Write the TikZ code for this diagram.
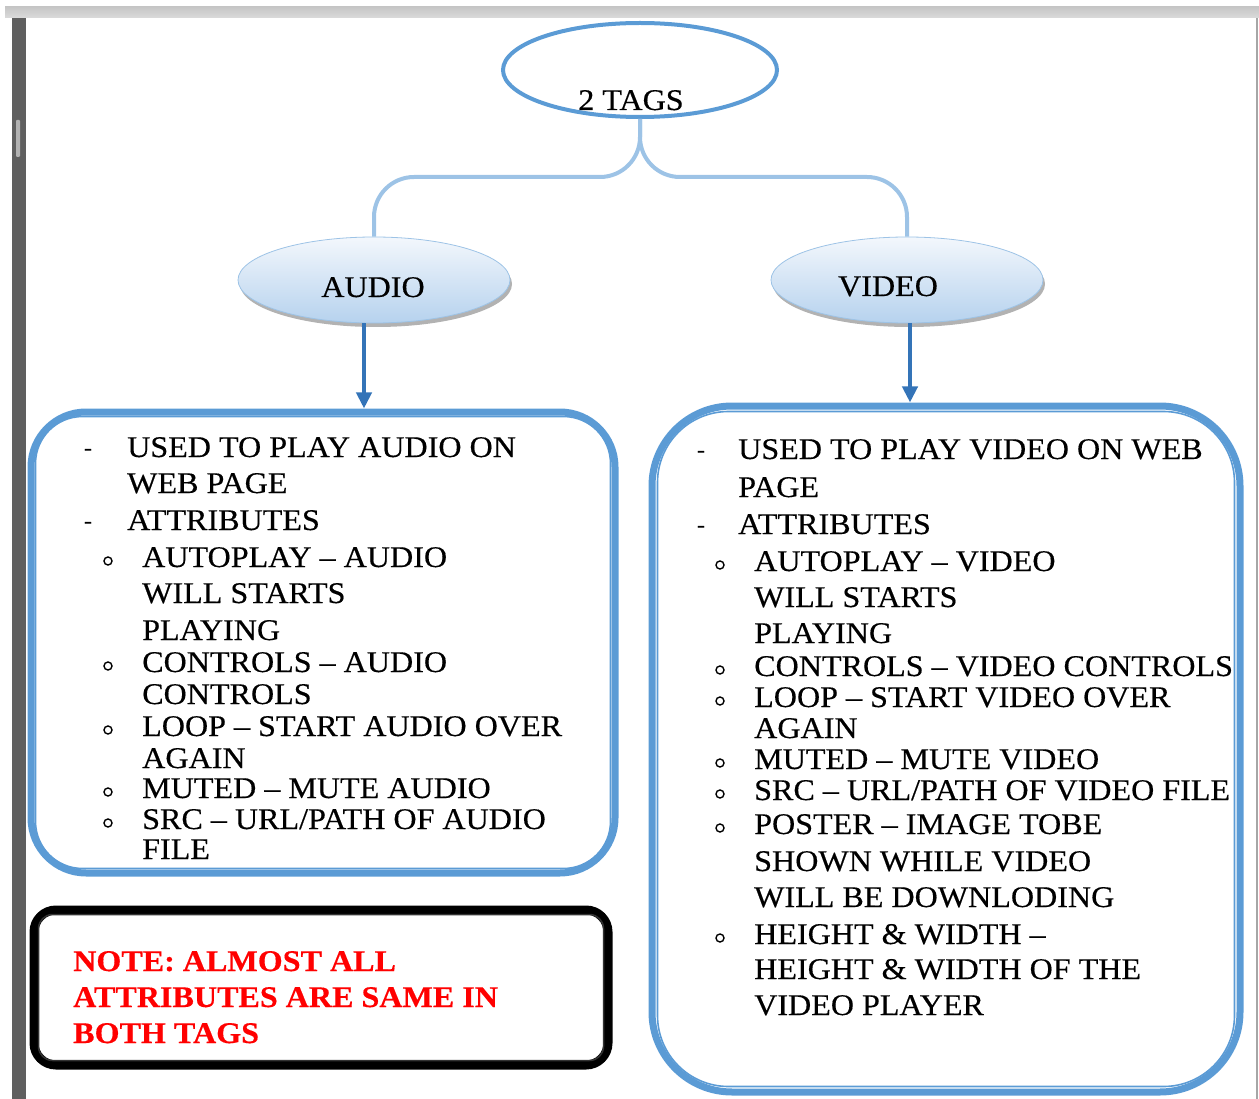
\documentclass[tikz,border=0pt]{standalone}
\usepackage{fontspec}
\setmainfont{Liberation Serif}[FakeStretch=1.07, FakeBold=0.4]
\usetikzlibrary{positioning,arrows.meta,shapes.geometric,shadows}
\definecolor{tagblue}{HTML}{5B9BD5}
\definecolor{linkblue}{HTML}{9DC3E6}
\definecolor{arrowblue}{HTML}{3474B8}
\definecolor{ovaltop}{HTML}{F3F7FC}
\definecolor{ovalbot}{HTML}{B6D2EE}
\definecolor{pagebar}{HTML}{5F5F5F}

\begin{document}
\begin{tikzpicture}[x=1pt, y=-1pt,
  txt/.style={anchor=base west, inner sep=0pt, font=\fontsize{30}{36}\selectfont},
  notetxt/.style={txt, text=red, font=\fontsize{30}{36}\selectfont\bfseries},
  dashmark/.style={inner sep=0pt, font=\fontsize{22}{24}\selectfont},
  circmark/.style={circle, draw, line width=1.4pt, inner sep=0pt, minimum size=8pt},
  root/.style={ellipse, draw=tagblue, line width=4pt, minimum width=274pt,
               minimum height=94pt, inner sep=0pt},
  oval/.style={ellipse, draw=linkblue, line width=0.8pt, top color=ovaltop,
               bottom color=ovalbot, minimum width=272pt, minimum height=86pt,
               inner sep=0pt, drop shadow={shadow xshift=2pt, shadow yshift=-4pt,
               opacity=0.3, fill=black}},
  infobox/.style={draw=tagblue, line width=7pt, inner sep=0pt},
  innerline/.style={draw=tagblue, line width=1.6pt},
  link/.style={draw=linkblue, line width=4pt, rounded corners=40pt},
  down/.style={draw=arrowblue, line width=4pt, -{Triangle[length=16pt,width=15pt]}},
]
\useasboundingbox (0,0) rectangle (1259,1099);

% window frame
\shade[top color=gray!45, bottom color=gray!28] (5,7) rectangle (1259,18);
\fill[pagebar] (12,18) rectangle (26,1099);
\fill[gray!60, rounded corners=1pt] (16,120) rectangle (20,157);
\draw[gray!70, line width=1.5pt] (1257,18) -- (1257,1099);

% tree
\node[root] (tags) at (640,70) {};
\node[txt, anchor=base] (tagslbl) at (631,110) {2 TAGS};

\node[oval] (audio) at (374,280) {};
\node[txt, anchor=base] (audiolbl) at (373,297) {AUDIO};
\node[oval] (video) at (907,280) {};
\node[txt, anchor=base] (videolbl) at (888,296) {VIDEO};

\draw[link] (tags.south) -- ++(0,58) -| (audio.north);
\draw[link] (tags.south) -- ++(0,58) -| (video.north);

% boxes
\node[infobox, rounded corners=55pt, minimum width=584pt, minimum height=461pt]
  (abox) at (323,642.5) {};
\draw[innerline, rounded corners=47pt] ([xshift=8pt,yshift=-8pt]abox.north west)
  rectangle ([xshift=-8pt,yshift=8pt]abox.south east);

\node[infobox, rounded corners=80pt, minimum width=588pt, minimum height=686pt]
  (vbox) at (946,749) {};
\draw[innerline, rounded corners=71pt] ([xshift=9pt,yshift=-9pt]vbox.north west)
  rectangle ([xshift=-9pt,yshift=9pt]vbox.south east);

\node[draw=black, line width=9pt, rounded corners=22pt, minimum width=574pt,
      minimum height=155pt, inner sep=0pt] (note) at (321,987.5) {};
\draw[black!80, line width=1.5pt, rounded corners=14pt]
  ([xshift=9pt,yshift=-9pt]note.north west)
  rectangle ([xshift=-9pt,yshift=9pt]note.south east);

\draw[down] ([xshift=-10pt]audio.south) -- ([xshift=-10pt]audio.south |- abox.north);
\draw[down] ([xshift=3pt]video.south) -- ([xshift=3pt]video.south |- vbox.north);

% audio list
\node[dashmark] (ad1) at (88,452) {-};
\node[txt] (a1) at (127,457) {USED TO PLAY AUDIO ON};
\node[txt] (a2) at (127,493) {WEB PAGE};
\node[dashmark] (ad2) at (88,525) {-};
\node[txt] (a3) at (127,530) {ATTRIBUTES};
\node[circmark] (ab1) at (108,561) {};
\node[txt] (a4) at (142,567) {AUTOPLAY – AUDIO};
\node[txt] (a5) at (142,603) {WILL STARTS};
\node[txt] (a6) at (142,640) {PLAYING};
\node[circmark] (ab2) at (108,666) {};
\node[txt] (a7) at (142,672) {CONTROLS – AUDIO};
\node[txt] (a8) at (142,704) {CONTROLS};
\node[circmark] (ab3) at (108,730) {};
\node[txt] (a9) at (142,736) {LOOP – START AUDIO OVER};
\node[txt] (a10) at (142,768) {AGAIN};
\node[circmark] (ab4) at (108,792) {};
\node[txt] (a11) at (142,798) {MUTED – MUTE AUDIO};
\node[circmark] (ab5) at (108,823) {};
\node[txt] (a12) at (142,829) {SRC – URL/PATH OF AUDIO};
\node[txt] (a13) at (142,859) {FILE};

% video list
\node[dashmark] (vd1) at (701,454) {-};
\node[txt] (v1) at (738,459) {USED TO PLAY VIDEO ON WEB};
\node[txt] (v2) at (738,497) {PAGE};
\node[dashmark] (vd2) at (701,529) {-};
\node[txt] (v3) at (738,534) {ATTRIBUTES};
\node[circmark] (vb1) at (720,565) {};
\node[txt] (v4) at (754,571) {AUTOPLAY – VIDEO};
\node[txt] (v5) at (754,607) {WILL STARTS};
\node[txt] (v6) at (754,643) {PLAYING};
\node[circmark] (vb2) at (720,670) {};
\node[txt] (v7) at (754,676) {CONTROLS – VIDEO CONTROLS};
\node[circmark] (vb3) at (720,701) {};
\node[txt] (v8) at (754,707) {LOOP – START VIDEO OVER};
\node[txt] (v9) at (754,738) {AGAIN};
\node[circmark] (vb4) at (720,763) {};
\node[txt] (v10) at (754,769) {MUTED – MUTE VIDEO};
\node[circmark] (vb5) at (720,794) {};
\node[txt] (v11) at (754,800) {SRC – URL/PATH OF VIDEO FILE};
\node[circmark] (vb6) at (720,828) {};
\node[txt] (v12) at (754,834) {POSTER – IMAGE TOBE};
\node[txt] (v13) at (754,871) {SHOWN WHILE VIDEO};
\node[txt] (v14) at (754,907) {WILL BE DOWNLODING};
\node[circmark] (vb7) at (720,938) {};
\node[txt] (v15) at (754,944) {HEIGHT \& WIDTH –};
\node[txt] (v16) at (754,979) {HEIGHT \& WIDTH OF THE};
\node[txt] (v17) at (754,1015) {VIDEO PLAYER};

% note
\node[notetxt] (n1) at (73,971) {NOTE: ALMOST ALL};
\node[notetxt] (n2) at (73,1007) {ATTRIBUTES ARE SAME IN};
\node[notetxt] (n3) at (73,1043) {BOTH TAGS};
\end{tikzpicture}
\end{document}
